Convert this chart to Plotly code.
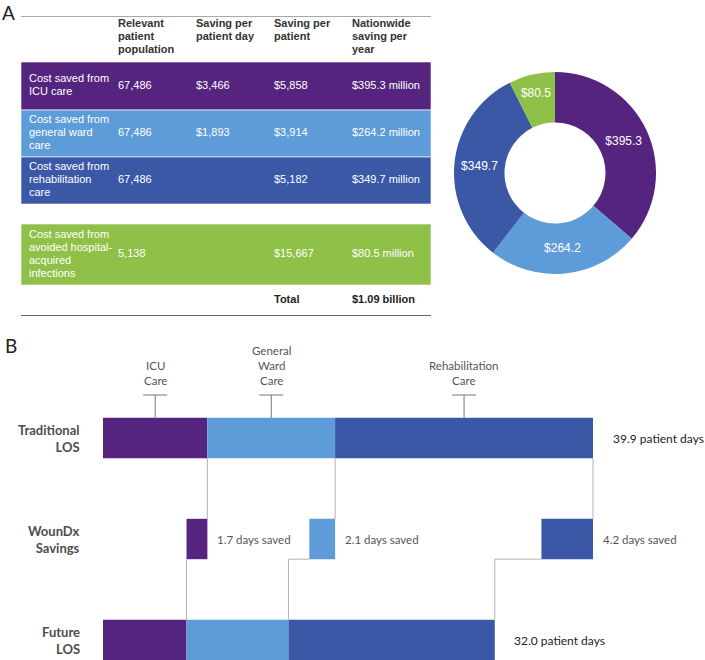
import plotly.graph_objects as go

W, H = 705, 660

# ---------------- Panel A data ----------------
header_labels = ["", "Relevant<br>patient<br>population", "Saving per<br>patient day",
                 "Saving per<br>patient", "Nationwide<br>saving per<br>year"]
row_labels = ["Cost saved from<br>ICU care",
              "Cost saved from<br>general ward<br>care",
              "Cost saved from<br>rehabilitation<br>care",
              "Cost saved from<br>avoided hospital-<br>acquired<br>infections"]
patient_population = ["67,486", "67,486", "67,486", "5,138"]
saving_per_patient_day = ["$3,466", "$1,893", "", ""]
saving_per_patient = ["$5,858", "$3,914", "$5,182", "$15,667"]
nationwide_saving = ["$395.3 million", "$264.2 million", "$349.7 million", "$80.5 million"]
total_label = "Total"
total_value = "$1.09 billion"

donut_values = [395.3, 264.2, 349.7, 80.5]   # $ million
donut_names = ["ICU care", "General ward care", "Rehabilitation care", "Hospital-acquired infections"]

# ---------------- Panel B data ----------------
care_types = ["ICU<br>Care", "General<br>Ward<br>Care", "Rehabilitation<br>Care"]
traditional_days = [8.5, 10.4, 21.0]
days_saved = [1.7, 2.1, 4.2]
row_names = ["Traditional<br>LOS", "WounDx<br>Savings", "Future<br>LOS"]
traditional_total_label = "39.9 patient days"
future_total_label = "32.0 patient days"
saved_labels = ["1.7 days saved", "2.1 days saved", "4.2 days saved"]

# ---------------- styles ----------------
PURPLE, LIGHT, DARK, GREEN = "#54247f", "#5e9bd9", "#3b58a7", "#8fc148"
care_colors = [PURPLE, LIGHT, DARK]
row_colors = [PURPLE, LIGHT, DARK, GREEN]
TFONT = "Liberation Sans, Arial, sans-serif"
BFONT = "Lato, Open Sans, sans-serif"

fig = go.Figure()

# ================= Panel A: table =================
col_widths = [89, 78, 78, 78, 87]
cell_pad = 8
row_heights = [46, 48, 47, 47, 20, 61, 31]   # header, 3 rows, gap, infection row, total
line_gap = 13
table_w = sum(col_widths)
table_h = sum(row_heights)
col_start = [sum(col_widths[:i]) + cell_pad for i in range(len(col_widths))]
row_top = [sum(row_heights[:i]) for i in range(len(row_heights))]
data_rows = [1, 2, 3, 5]

# coloured row backgrounds
fig.add_trace(go.Bar(
    orientation="h", xaxis="x2", yaxis="y2",
    y=[row_top[r] + row_heights[r] / 2 for r in data_rows],
    x=[table_w] * len(data_rows), base=0,
    width=[row_heights[r] for r in data_rows],
    marker=dict(color=row_colors, line=dict(color="rgba(255,255,255,0.6)", width=1)),
    hoverinfo="skip", showlegend=False))

tx, ty, tt, tc = [], [], [], []


def add_cell(text, col, row, color, bold=False, top=False):
    lines = text.split("<br>") if text else []
    n = len(lines)
    for i, ln in enumerate(lines):
        if top:
            y = row_top[row] + cell_pad + i * line_gap
        else:
            y = row_top[row] + row_heights[row] / 2 + (i - (n - 1) / 2) * line_gap
        tx.append(col_start[col])
        ty.append(y)
        tt.append("<b>%s</b>" % ln if bold else ln)
        tc.append(color)


for c, h in enumerate(header_labels):
    add_cell(h, c, 0, "#333333", bold=True, top=True)
for k, r in enumerate(data_rows):
    cols = [row_labels[k], patient_population[k], saving_per_patient_day[k],
            saving_per_patient[k], nationwide_saving[k]]
    for c, v in enumerate(cols):
        add_cell(v, c, r, "white")
add_cell(total_label, 3, 6, "#222222", bold=True)
add_cell(total_value, 4, 6, "#222222", bold=True)

fig.add_trace(go.Scatter(
    x=tx, y=ty, text=tt, mode="text", textposition="middle right",
    textfont=dict(family=TFONT, size=11, color=tc), xaxis="x2", yaxis="y2",
    cliponaxis=False, hoverinfo="skip", showlegend=False))

# ================= Panel A: donut =================
fig.add_trace(go.Pie(
    values=donut_values, labels=donut_names,
    text=["$%s" % v for v in donut_values], textinfo="text",
    textposition="inside", insidetextorientation="horizontal",
    textfont=dict(family=TFONT, size=12, color="white"),
    sort=False, direction="clockwise", rotation=0, hole=0.5,
    marker=dict(colors=row_colors, line=dict(width=0)),
    domain=dict(x=[454 / W, 656 / W], y=[1 - 274 / H, 1 - 72 / H]),
    showlegend=False, hoverinfo="label+value"))

# ================= Panel B =================
trad_start = [sum(traditional_days[:i]) for i in range(3)]
trad_end = [trad_start[i] + traditional_days[i] for i in range(3)]
future_days = [traditional_days[i] - days_saved[i] for i in range(3)]
fut_start = [sum(future_days[:i]) for i in range(3)]
fut_end = [fut_start[i] + future_days[i] for i in range(3)]
sav_start = [trad_end[i] - days_saved[i] for i in range(3)]
BW = 0.4

for i in range(3):
    fig.add_trace(go.Bar(
        orientation="h", y=[0, 1, 2],
        x=[traditional_days[i], days_saved[i], future_days[i]],
        base=[trad_start[i], sav_start[i], fut_start[i]],
        width=BW, marker=dict(color=care_colors[i], line=dict(width=0)),
        showlegend=False, hoverinfo="skip"))

# connectors
cx, cy = [], []
for i in range(3):
    cx += [trad_end[i], trad_end[i], None]
    cy += [BW / 2, 1 - BW / 2, None]
    cx += [sav_start[i], fut_end[i], fut_end[i], None]
    cy += [1 + BW / 2, 1 + BW / 2, 2 - BW / 2, None]
fig.add_trace(go.Scatter(x=cx, y=cy, mode="lines", line=dict(color="#b3b3b3", width=1),
                         hoverinfo="skip", showlegend=False))

# pixel geometry of panel B
x0px = 103
ppd = 490 / sum(traditional_days)
unit = 101
row0_px = 438


def ypx(p):
    return (p - row0_px) / unit


tick_top = ypx(395)
half = 12 / ppd
mids = [(trad_start[i] + trad_end[i]) / 2 for i in range(3)]
kx, ky = [], []
for m in mids:
    kx += [m, m, None, m - half, m + half, None]
    ky += [-BW / 2, tick_top, None, tick_top, tick_top, None]
fig.add_trace(go.Scatter(x=kx, y=ky, mode="lines", line=dict(color="#777777", width=1),
                         hoverinfo="skip", showlegend=False))

ann = []
for i, m in enumerate(mids):
    ann.append(dict(x=m, y=ypx(389), xref="x", yref="y", text=care_types[i],
                    showarrow=False, xanchor="center", yanchor="bottom", align="center",
                    font=dict(family=BFONT, size=11.5, color="#555555")))
for r, name in enumerate(row_names):
    ann.append(dict(x=82 / W, y=r, xref="paper", yref="y", text="<b>%s</b>" % name,
                    showarrow=False, xanchor="right", yanchor="middle", align="right",
                    font=dict(family=BFONT, size=13, color="#4d4d4d")))
ann.append(dict(x=trad_end[2], y=0, xref="x", yref="y", text=traditional_total_label,
                showarrow=False, xanchor="left", yanchor="middle", xshift=18,
                font=dict(family=BFONT, size=12, color="#222222")))
ann.append(dict(x=fut_end[2], y=2, xref="x", yref="y", text=future_total_label,
                showarrow=False, xanchor="left", yanchor="middle", xshift=17,
                font=dict(family=BFONT, size=12, color="#222222")))
for i in range(3):
    ann.append(dict(x=trad_end[i], y=1, xref="x", yref="y", text=saved_labels[i],
                    showarrow=False, xanchor="left", yanchor="middle", xshift=8,
                    font=dict(family=BFONT, size=11.5, color="#555555")))
ann.append(dict(x=0, y=1 - 12 / H, xref="paper", yref="paper", text="A", showarrow=False,
                xanchor="left", yanchor="middle", font=dict(family=BFONT, size=19, color="#222222")))
ann.append(dict(x=3 / W, y=1 - 345 / H, xref="paper", yref="paper", text="B", showarrow=False,
                xanchor="left", yanchor="middle", font=dict(family=BFONT, size=19, color="#222222")))

shapes = [
    dict(type="line", xref="x2", yref="y2", x0=0, x1=table_w, y0=0, y1=0,
         line=dict(color="#555555", width=1)),
    dict(type="line", xref="x2", yref="y2", x0=0, x1=table_w, y0=table_h, y1=table_h,
         line=dict(color="#333333", width=1.5)),
]

fig.update_layout(
    width=W, height=H, margin=dict(l=0, r=0, t=0, b=0),
    paper_bgcolor="white", plot_bgcolor="white", barmode="overlay",
    showlegend=False, annotations=ann, shapes=shapes,
    xaxis=dict(domain=[0, 1], range=[-x0px / ppd, (W - x0px) / ppd], visible=False,
               fixedrange=True),
    yaxis=dict(domain=[0, (H - 330) / H], range=[2 + (H - 640) / unit, -(row0_px - 330) / unit],
               visible=False, fixedrange=True),
    xaxis2=dict(domain=[21 / W, 431 / W], range=[0, table_w], visible=False, anchor="y2",
                fixedrange=True),
    yaxis2=dict(domain=[1 - 316 / H, 1 - 16 / H], range=[table_h, 0], visible=False,
                anchor="x2", fixedrange=True),
)

fig.write_html("out.html", config={"displayModeBar": False},
               post_script="document.body.style.margin='0';document.body.style.padding='0';"
                           "document.body.style.overflow='hidden';")
